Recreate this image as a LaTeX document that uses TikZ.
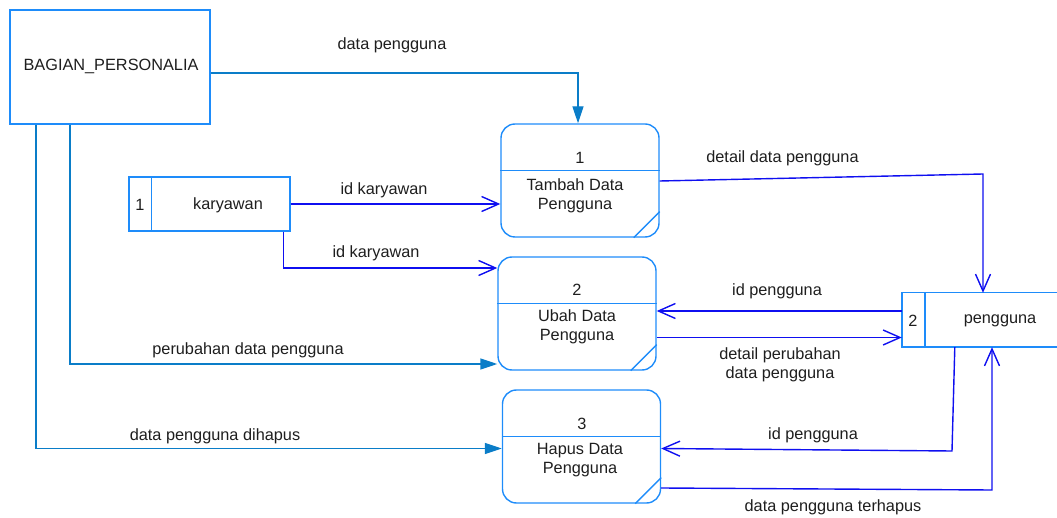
\documentclass[tikz,border=0pt]{standalone}
\usepackage{fontspec}
\setmainfont{Liberation Sans}
\usetikzlibrary{arrows.meta}
\definecolor{boxblue}{RGB}{30,140,250}
\definecolor{flowblue}{RGB}{10,125,200}
\definecolor{dblue}{RGB}{15,15,240}
\definecolor{txt}{RGB}{30,30,30}
\tikzset{
  ent/.style={draw=boxblue, line width=1.4pt, minimum width=200pt, minimum height=114pt, inner sep=0pt},
  proc/.style={draw=boxblue, line width=1.4pt, rounded corners=14pt, minimum width=158pt, minimum height=113pt, inner sep=0pt},
  boxline/.style={draw=boxblue, line width=1.4pt},
  store/.style={minimum height=54pt, inner sep=0pt},
  flow/.style={draw=flowblue, line width=1.4pt, -{Triangle[length=17pt,width=11pt]}},
  dflow/.style={draw=dblue, line width=1.4pt, -{Straight Barb[length=17pt,width=15pt,line width=1.4pt]}},
  lbl/.style={text=txt, font=\fontsize{16.3}{19}\selectfont, inner sep=0pt, align=center},
}
\begin{document}
\begin{tikzpicture}[x=1pt,y=-1pt]
\useasboundingbox (0,0) rectangle (1057,518);
% entity
\node[ent] (bp) at (110,67) {};
\node[lbl] (bpt) at (111,66) {BAGIAN\_PERSONALIA};
% processes
\node[proc] (p1) at (580,180.5) {};
\node[proc] (p2) at (577,313.5) {};
\node[proc] (p3) at (581.5,446.5) {};
\foreach \p in {p1,p2,p3}{
  \draw[boxline] ([yshift=10]\p.west) -- ([yshift=10]\p.east);
  \draw[boxline] ([yshift=26]\p.south east) -- ([xshift=-26]\p.south east);
}
\node[lbl] (p1n) at (580,158) {1};
\node[lbl] (p1t) at (575,195.5) {Tambah Data\\Pengguna};
\node[lbl] (p2n) at (577,290) {2};
\node[lbl] (p2t) at (577,326.5) {Ubah Data\\Pengguna};
\node[lbl] (p3n) at (582,424) {3};
\node[lbl] (p3t) at (580,460.5) {Hapus Data\\Pengguna};
% data stores
\node[store, draw=boxblue, line width=1.4pt, minimum width=161pt] (ds1) at (209.5,204) {};
\draw[boxline] ([xshift=23]ds1.north west) -- ([xshift=23]ds1.south west);
\node[lbl] (ds1n) at (140,205) {1};
\node[lbl] (ds1t) at (228,205) {karyawan};
\node[store, minimum width=156pt] (ds2) at (980,320) {};
\draw[boxline] ([xshift=160]ds2.north west) -- (ds2.north west) -- (ds2.south west) -- ([xshift=160]ds2.south west);
\draw[boxline] ([xshift=23]ds2.north west) -- ([xshift=23]ds2.south west);
\node[lbl] (ds2n) at (913,321) {2};
\node[lbl] (ds2t) at (1000,321) {pengguna};
% flows
\draw[flow] ([yshift=-6]bp.east) -| ([xshift=-2]p1.north);
\node[lbl] (l1) at (392,45) {data pengguna};
\draw[dflow] (ds1.east) -- (ds1.east -| p1.west);
\node[lbl] (l2) at (384,190) {id karyawan};
\draw[dflow] ([xshift=-7]ds1.south east) |- ([yshift=45.5]p2.west);
\node[lbl] (l3) at (376,253) {id karyawan};
\draw[flow] ([xshift=-40]bp.south) |- ([yshift=-50.5]p2.west);
\node[lbl] (l4) at (248,350) {perubahan data pengguna};
\draw[flow] ([xshift=-74]bp.south) |- ([yshift=-2]p3.west);
\node[lbl] (l5) at (215,436) {data pengguna dihapus};
\coordinate (c1) at (983,174);
\draw[dflow] ([yshift=-0.5]p1.east) -- (c1) -- (c1 |- ds2.north);
\node[lbl] (l6) at (782.5,158.5) {detail data pengguna};
\draw[dflow] ([yshift=9]ds2.west) coordinate (a1) -- (a1 -| p2.east);
\node[lbl] (l7) at (777,291) {id pengguna};
\draw[dflow] ([yshift=-24]p2.east) coordinate (a2) -- (a2 -| ds2.west);
\node[lbl] (l8) at (780,364.5) {detail perubahan\\data pengguna};
\coordinate (c2) at (952,451);
\draw[dflow] ([xshift=53]ds2.south west) -- (c2) -- ([yshift=-2]p3.east);
\node[lbl] (l9) at (813,435) {id pengguna};
\coordinate (c3) at (992,490);
\draw[dflow] ([yshift=-41.5]p3.east) -- (c3) -- (c3 |- ds2.south);
\node[lbl] (l10) at (833,507) {data pengguna terhapus};
\end{tikzpicture}
\end{document}
